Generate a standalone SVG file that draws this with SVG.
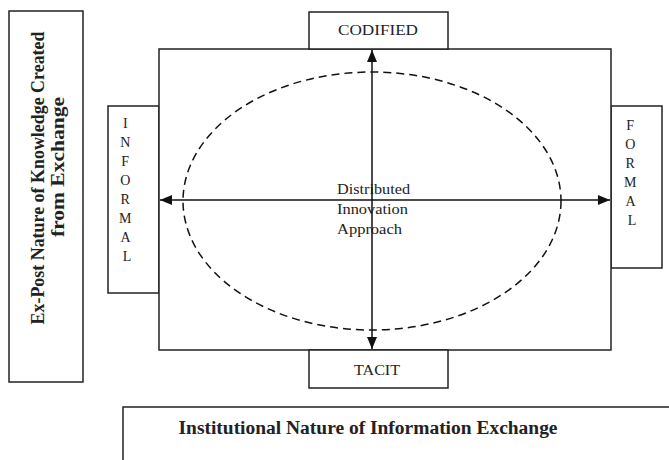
<svg xmlns="http://www.w3.org/2000/svg" width="669" height="460" viewBox="0 0 669 460">
  <style>
    .box { fill: #fff; stroke: #222; stroke-width: 1.5; }
    .lbl { font-family: "Liberation Serif", "Times New Roman", serif; fill: #222; }
    .small { font-size: 14px; }
    .mid { font-size: 15px; }
    .bold { font-size: 18px; font-weight: bold; }
    .axis { stroke: #111; stroke-width: 1.5; fill: none; }
  </style>
  <defs>
    <marker id="arrow" viewBox="0 0 12 10" refX="12" refY="5" markerWidth="12" markerHeight="10" markerUnits="userSpaceOnUse" orient="auto-start-reverse">
      <path d="M0,0 L12,5 L0,10 Z" fill="#111"/>
    </marker>
  </defs>

  <rect width="669" height="460" fill="#fff"/>

  <!-- outer label panels -->
  <g id="knowledge-axis-label">
    <rect class="box" x="9" y="11" width="74" height="371"/>
    <text class="lbl bold" transform="translate(44,178) rotate(-90)" text-anchor="middle" textLength="293" lengthAdjust="spacingAndGlyphs">Ex-Post Nature of Knowledge Created</text>
    <text class="lbl bold" transform="translate(64,167) rotate(-90)" text-anchor="middle" textLength="140" lengthAdjust="spacingAndGlyphs">from Exchange</text>
  </g>

  <g id="exchange-axis-label">
    <path d="M123,462 L123,407 L672,407" class="box" fill="none"/>
    <text class="lbl bold" x="368" y="434" text-anchor="middle" textLength="379" lengthAdjust="spacingAndGlyphs">Institutional Nature of Information Exchange</text>
  </g>

  <!-- side boxes sit behind the main frame -->
  <g id="informal">
    <rect class="box" x="108" y="106" width="51" height="187"/>
    <text class="lbl small" text-anchor="middle">
      <tspan x="127" y="128">I</tspan>
      <tspan x="127" y="147">N</tspan>
      <tspan x="127" y="166">F</tspan>
      <tspan x="127" y="185">O</tspan>
      <tspan x="127" y="204">R</tspan>
      <tspan x="127" y="223">M</tspan>
      <tspan x="127" y="242">A</tspan>
      <tspan x="127" y="261">L</tspan>
    </text>
  </g>

  <g id="formal">
    <rect class="box" x="611" y="106" width="51" height="162"/>
    <text class="lbl small" text-anchor="middle">
      <tspan x="632" y="130">F</tspan>
      <tspan x="632" y="149">O</tspan>
      <tspan x="632" y="168">R</tspan>
      <tspan x="632" y="187">M</tspan>
      <tspan x="632" y="206">A</tspan>
      <tspan x="632" y="225">L</tspan>
    </text>
  </g>

  <g id="frame">
    <rect class="box" x="159" y="49" width="452" height="301"/>
  </g>

  <g id="codified">
    <rect class="box" x="309" y="12" width="139" height="37"/>
    <text class="lbl small" x="378" y="35" text-anchor="middle" textLength="80" lengthAdjust="spacingAndGlyphs">CODIFIED</text>
  </g>

  <g id="tacit">
    <rect class="box" x="309" y="350" width="139" height="38"/>
    <text class="lbl small" x="377" y="375" text-anchor="middle" textLength="46" lengthAdjust="spacingAndGlyphs">TACIT</text>
  </g>

  <g id="approach">
    <ellipse cx="372" cy="201" rx="189" ry="129" fill="none" stroke="#111" stroke-width="1.5" stroke-dasharray="8,5"/>
    <text class="lbl mid">
      <tspan x="337" y="194" textLength="73" lengthAdjust="spacingAndGlyphs">Distributed</tspan>
      <tspan x="337" y="214" textLength="71" lengthAdjust="spacingAndGlyphs">Innovation</tspan>
      <tspan x="337" y="234" textLength="65" lengthAdjust="spacingAndGlyphs">Approach</tspan>
    </text>
  </g>

  <g id="connectors">
    <line class="axis" x1="160" y1="200" x2="610" y2="200" marker-start="url(#arrow)" marker-end="url(#arrow)"/>
    <line class="axis" x1="372" y1="50" x2="372" y2="349" marker-start="url(#arrow)" marker-end="url(#arrow)"/>
  </g>
</svg>
